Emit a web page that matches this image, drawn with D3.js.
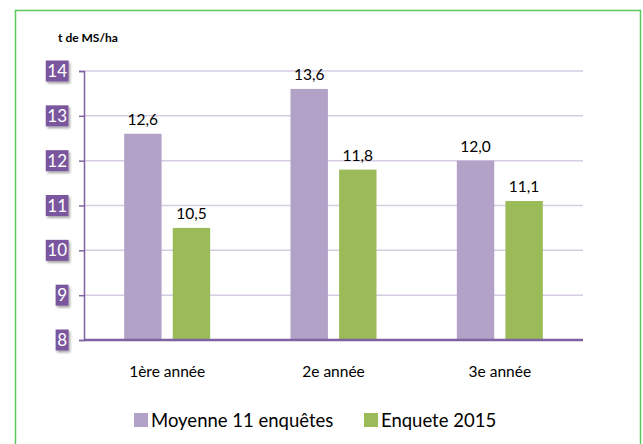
<!DOCTYPE html>
<html>
<head>
<meta charset="utf-8">
<script src="https://cdn.jsdelivr.net/npm/d3@7"></script>
<style>
  body { margin: 0; background: #fff; }
  svg { font-family: Lato, "Open Sans", sans-serif; }
</style>
</head>
<body>
<svg id="chart"></svg>
<script>
// donnees
var categories = ["1ère année", "2e année", "3e année"];
var series = ["Moyenne 11 enquêtes", "Enquete 2015"];
var moyenne = [12.6, 13.6, 12.0];
var enquete2015 = [10.5, 11.8, 11.1];
var yTicks = [8, 9, 10, 11, 12, 13, 14];

var colors = ["#b3a2c7", "#9bbb59"];
var axisColor = "#7f62a1";

var size = { width: 643, height: 444 };
var margin = { top: 71, right: 60, bottom: 104, left: 84 };
var width = size.width - margin.left - margin.right;
var height = size.height - margin.top - margin.bottom;

var svg = d3.select("#chart")
  .attr("width", size.width)
  .attr("height", size.height);

// cadre vert
svg.append("rect")
  .attr("x", 15.5).attr("y", 10.5)
  .attr("width", 625).attr("height", 450)
  .attr("fill", "none")
  .attr("stroke", "#5cc75c")
  .attr("stroke-width", 1.5);

var defs = svg.append("defs");
var f = defs.append("filter").attr("id", "shadow")
  .attr("x", "-30%").attr("y", "-30%").attr("width", "160%").attr("height", "160%");
f.append("feDropShadow").attr("dx", 1.5).attr("dy", 2).attr("stdDeviation", 1.2)
  .attr("flood-color", "#000").attr("flood-opacity", 0.35);

svg.append("text")
  .attr("x", 58).attr("y", 42)
  .attr("font-size", 12).attr("font-weight", "bold")
  .attr("fill", "#000")
  .text("t de MS/ha");

var g = svg.append("g")
  .attr("transform", "translate(" + margin.left + "," + margin.top + ")");

var x0 = d3.scaleBand().domain(categories).range([0, width]);
var x1 = d3.scaleBand().domain(series).range([0, 86]).paddingInner(0.23);
var y = d3.scaleLinear().domain([8, 14]).range([height, 0]);

// grille
g.append("g").selectAll("line")
  .data(yTicks.filter(function(d){ return d > 8; }))
  .join("line")
  .attr("x1", 0).attr("x2", width)
  .attr("y1", function(d){ return y(d); })
  .attr("y2", function(d){ return y(d); })
  .attr("stroke", "#d6cce4")
  .attr("stroke-width", 1.5);

// barres
var rows = categories.map(function(c, i){
  return { cat: c, vals: [moyenne[i], enquete2015[i]] };
});

var groups = g.selectAll(".grp")
  .data(rows)
  .join("g")
  .attr("class", "grp")
  .attr("transform", function(d){
    return "translate(" + (x0(d.cat) + x0.bandwidth() / 2 - 43) + ",0)";
  });

groups.selectAll("rect")
  .data(function(d){ return d.vals.map(function(v, j){ return { s: series[j], v: v, j: j }; }); })
  .join("rect")
  .attr("x", function(d){ return x1(d.s); })
  .attr("width", x1.bandwidth())
  .attr("y", function(d){ return y(d.v); })
  .attr("height", function(d){ return height - y(d.v); })
  .attr("fill", function(d){ return colors[d.j]; });

groups.selectAll("text.val")
  .data(function(d){ return d.vals.map(function(v, j){ return { s: series[j], v: v }; }); })
  .join("text")
  .attr("class", "val")
  .attr("x", function(d){ return x1(d.s) + x1.bandwidth() / 2; })
  .attr("y", function(d){ return y(d.v) - 9; })
  .attr("text-anchor", "middle")
  .attr("font-size", 15.5)
  .attr("fill", "#000")
  .text(function(d){ return d3.format(".1f")(d.v).replace(".", ","); });

// axe y
var yAxis = g.append("g")
  .call(d3.axisLeft(y).tickValues(yTicks).tickSize(5).tickFormat(""));
yAxis.select(".domain").attr("stroke", axisColor).attr("stroke-width", 1.5);
yAxis.selectAll(".tick line").attr("stroke", axisColor).attr("stroke-width", 1.5);

// etiquettes y dans des boites violettes
var lab = g.append("g").selectAll("g")
  .data(yTicks)
  .join("g")
  .attr("transform", function(d){ return "translate(-17," + y(d) + ")"; });

lab.append("text")
  .attr("text-anchor", "end")
  .attr("dy", "0.36em")
  .attr("font-size", 17)
  .attr("fill", "#fff")
  .text(function(d){ return d; });

lab.each(function(){
  var t = d3.select(this).select("text");
  var bb = t.node().getBBox();
  d3.select(this).insert("rect", "text")
    .attr("x", bb.x - 1.5).attr("y", -10.5)
    .attr("width", bb.width + 3).attr("height", 21)
    .attr("fill", "#7a569e")
    .attr("filter", "url(#shadow)");
});

// axe x
g.append("line")
  .attr("x1", 0).attr("x2", width)
  .attr("y1", height).attr("y2", height)
  .attr("stroke", axisColor)
  .attr("stroke-width", 2.5);

g.append("g").selectAll("text")
  .data(categories)
  .join("text")
  .attr("x", function(d){ return x0(d) + x0.bandwidth() / 2; })
  .attr("y", height + 37)
  .attr("text-anchor", "middle")
  .attr("font-size", 15.5)
  .attr("fill", "#000")
  .text(function(d){ return d; });

// legende
var legX = [134, 364];
var leg = svg.append("g").selectAll("g")
  .data(series)
  .join("g")
  .attr("transform", function(d, i){ return "translate(" + legX[i] + ",413)"; });

leg.append("rect")
  .attr("width", 14).attr("height", 14)
  .attr("fill", function(d, i){ return colors[i]; });

leg.append("text")
  .attr("x", 17).attr("y", 13.5)
  .attr("font-size", 18.5)
  .attr("fill", "#000")
  .text(function(d){ return d; });
</script>
</body>
</html>
